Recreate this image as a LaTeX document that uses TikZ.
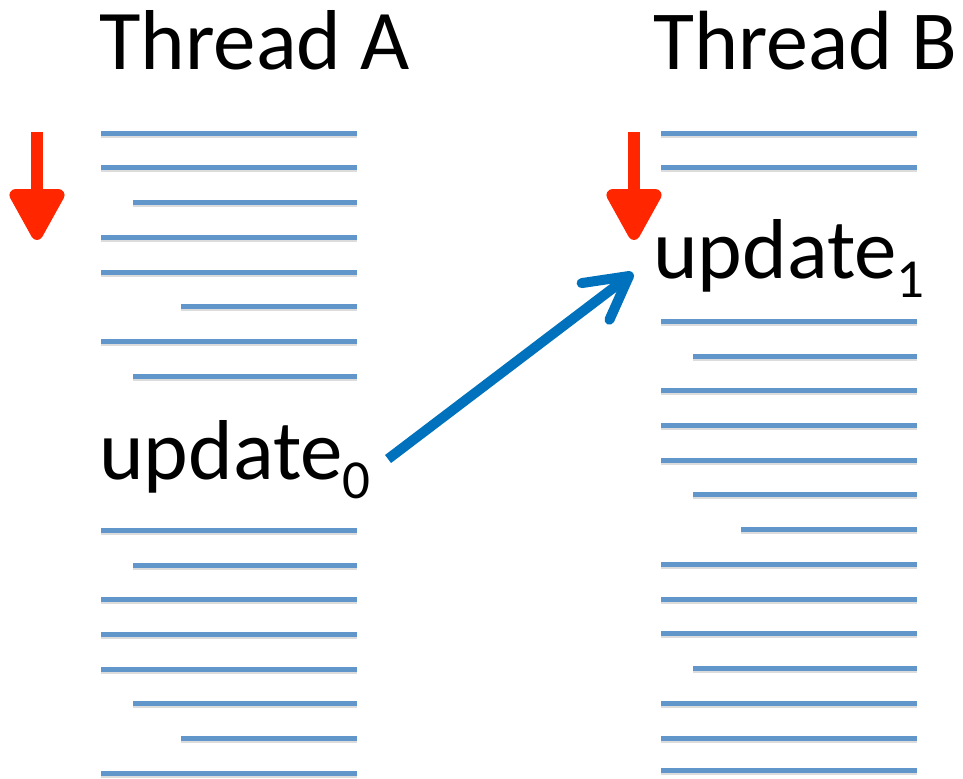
\documentclass[tikz,border=0pt]{standalone}
\usepackage{fontspec}
\setmainfont{Carlito}
\usetikzlibrary{arrows.meta}
\definecolor{linecolor}{RGB}{97,150,203}
\definecolor{flowblue}{RGB}{0,113,188}
\definecolor{pcred}{RGB}{255,38,0}
\newcommand{\subidx}[1]{\raisebox{-19bp}{\fontsize{55bp}{55bp}\selectfont #1}}

\begin{document}
\begin{tikzpicture}[x=1bp,y=-1bp,
    every node/.style={inner sep=0pt,anchor=base west,font=\fontsize{85bp}{100bp}\selectfont},
    codeline/.style={draw=linecolor,line width=5bp},
    shadowline/.style={draw=black!30,line width=4bp,opacity=.45},
    pc/.style={draw=pcred,fill=pcred,line width=12bp,-{Triangle[round,length=58bp,width=60bp]}},
    handoff/.style={draw=flowblue,line width=10bp,-{Straight Barb[round,length=42bp,width=46bp]}}]
  \useasboundingbox (0,0) rectangle (963,779);
  \node (ThreadA) at (99,70)  {Thread A};
  \node[font=\fontsize{84bp}{100bp}\selectfont] (ThreadB) at (653,70) {Thread B};
  \node (UpdateA) at (99,479)  {update\subidx{0}};
  \node (UpdateB) at (653,278) {update\subidx{1}};

  \foreach \y/\x in {133/101,167/101,202/133,237/101,272/101,306/181,341/101,376/133,
                     530/101,565/133,599/101,634/101,669/101,703/133,738/181,773/101}
    {\draw[shadowline] (\x,\y+3) -- (357,\y+3);
     \draw[codeline]   (\x,\y)   -- (357,\y);}
  \foreach \y/\x in {133/661,167/661,321/661,356/693,390/661,425/661,460/661,494/693,
                     529/741,564/661,599/661,633/661,668/693,703/661,738/661,770/661}
    {\draw[shadowline] (\x,\y+3) -- (917,\y+3);
     \draw[codeline]   (\x,\y)   -- (917,\y);}

  \coordinate (PcATop) at (37,132);  \coordinate (PcAEnd) at (37,240);
  \coordinate (PcBTop) at (634,132); \coordinate (PcBEnd) at (634,240);
  \draw[pc] (PcATop) -- (PcAEnd);
  \draw[pc] (PcBTop) -- (PcBEnd);

  \draw[handoff] ([shift={(17,-20)}]UpdateA.base east) -- ([shift={(-20,-5)}]UpdateB.base west);
\end{tikzpicture}
\end{document}
